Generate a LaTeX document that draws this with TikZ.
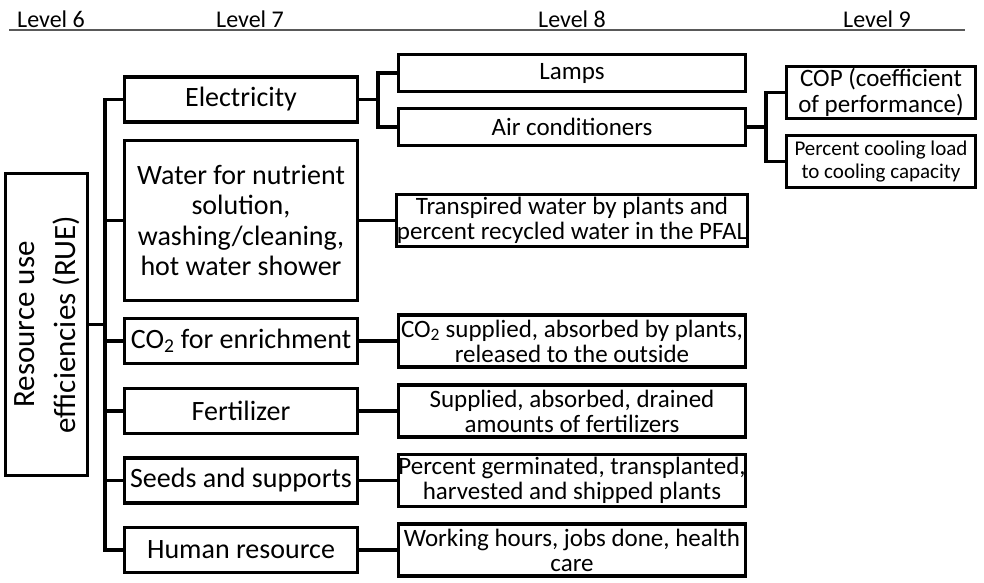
\documentclass[tikz,border=0pt]{standalone}
\usepackage{fontspec}
\setmainfont{Carlito}
\usepackage{graphicx}
\usepackage{tikz}
\usetikzlibrary{positioning}

\newcommand{\fsz}[2]{\fontsize{#1pt}{#2pt}\selectfont}

\begin{document}
\begin{tikzpicture}[x=1pt, y=-1pt,
	box/.style={draw, line width=3.1pt, inner sep=0pt, align=center},
	levseven/.style={box, minimum width=233pt, minimum height=45pt, font=\fsz{28}{30.5}},
	leveight/.style={box, minimum width=347pt, minimum height=52pt, font=\fsz{25}{25}},
	levnine/.style={box, minimum width=189pt, minimum height=52pt},
	header/.style={anchor=base, font=\fsz{24}{28}},
	link/.style={line width=3.1pt}]
	\useasboundingbox (0,0) rectangle (984,582);
	
	% level headers
	\node[header] (lvsix) at (51,27) {Level 6};
	\node[header] (lvseven) at (250,27) {Level 7};
	\node[header] (lveight) at (572,27) {Level 8};
	\node[header] (lvnine) at (877,27) {Level 9};
	\draw[line width=2.2pt, black!65] (9,30) -- (965,30);
	
	% level 6
	\node[box, minimum width=74pt, minimum height=302pt] (rue) at (46.5,324.5)
		{\rotatebox{90}{\fsz{31}{41}\begin{tabular}{@{}c@{}}Resource use\\efficiencies (RUE)\end{tabular}}};
	
	% level 7
	\node[levseven] (elec) at (241,99.5) {Electricity};
	\node[levseven, minimum height=160pt] (water) at (241,220.5) {Water for nutrient\\solution,\\washing/cleaning,\\hot water shower};
	\node[levseven] (co2) at (241,341) {CO\textsubscript{2} for enrichment};
	\node[levseven] (fert) at (241,411) {Fertilizer};
	\node[levseven] (seeds) at (241,480.5) {Seeds and supports};
	\node[levseven] (human) at (241,550) {Human resource};
	
	% level 8
	\node[leveight, minimum height=37pt] (lamps) at (572,73) {Lamps};
	\node[leveight, minimum height=37pt] (aircon) at (572,127) {Air conditioners};
	\node[leveight] (transp) at (572,220.5) {Transpired water by plants and\\percent recycled water in the PFAL};
	\node[leveight] (co2use) at (572,341) {CO\textsubscript{2} supplied, absorbed by plants,\\released to the outside};
	\node[leveight] (fertuse) at (572,411) {Supplied, absorbed, drained\\amounts of fertilizers};
	\node[leveight] (plants) at (572,480.5) {Percent germinated, transplanted,\\harvested and shipped plants};
	\node[leveight] (labour) at (572,550) {Working hours, jobs done, health\\care};
	
	% level 9
	\node[levnine, font=\fsz{25}{26}] (cop) at (881,92.5) {COP (coefficient\\of performance)};
	\node[levnine, font=\fsz{21}{23}] (cool) at (881,161.5) {Percent cooling load\\to cooling capacity};
	
	% connectors
	\coordinate (trunk) at (105,0);
	\coordinate (elecfork) at (378,0);
	\coordinate (airfork) at (766,0);
	\draw[link] (rue.east) -- (rue.east -| trunk);
	\draw[link] (elec.west) -- (elec.west -| trunk) -- (human.west -| trunk) -- (human.west);
	\foreach \n in {water,co2,fert,seeds}
		\draw[link] (\n.west -| trunk) -- (\n.west);
	\draw[link] (elec.east) -- (elec.east -| elecfork);
	\draw[link] (lamps.west) -- (lamps.west -| elecfork) -- (aircon.west -| elecfork) -- (aircon.west);
	\draw[link] (aircon.east) -- (aircon.east -| airfork);
	\draw[link] (cop.west) -- (cop.west -| airfork) -- (cool.west -| airfork) -- (cool.west);
	\draw[link] (water.east) -- (transp.west);
	\draw[link] (co2.east) -- (co2use.west);
	\draw[link] (fert.east) -- (fertuse.west);
	\draw[link] (seeds.east) -- (plants.west);
	\draw[link] (human.east) -- (labour.west);
\end{tikzpicture}
\end{document}
